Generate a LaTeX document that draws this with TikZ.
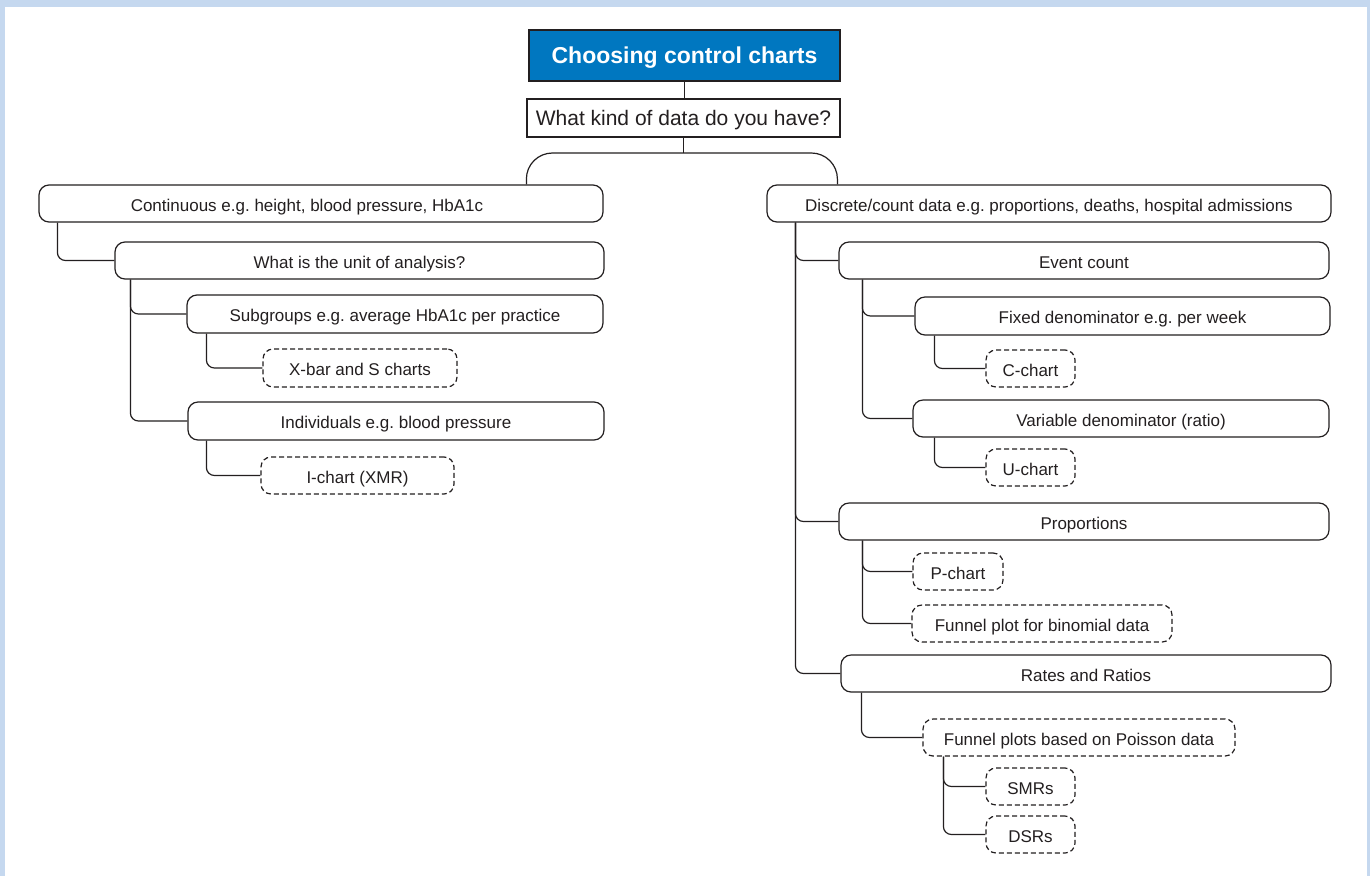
\documentclass[tikz,border=0pt]{standalone}
\usepackage{fontspec}
\setmainfont{Liberation Sans}
\usetikzlibrary{calc}
\definecolor{bgblue}{RGB}{197,216,239}
\definecolor{titleblue}{RGB}{0,119,192}
\definecolor{ink}{RGB}{35,31,32}
\frenchspacing
\begin{document}
\begin{tikzpicture}[x=1pt,y=-1pt,
  font=\fontsize{17}{20}\selectfont, text=ink,
  box/.style={draw=ink, line width=1.2pt, rounded corners=10pt, inner sep=0pt, text height=17pt, text depth=2pt},
  dbox/.style={box, dash pattern=on 5pt off 3pt},
  sz/.style 2 args={minimum width=#1pt, minimum height=#2pt},
  conn/.style={draw=ink, line width=1.2pt, rounded corners=8pt},
  bracket/.style={draw=ink, line width=1.2pt, rounded corners=26pt}]
\useasboundingbox (0,0) rectangle (1370,876);
\fill[bgblue] (0,0) rectangle (1370,876);
\fill[white] (5,7) rectangle (1367,876);

% top
\node[draw=ink, line width=1.2pt, fill=titleblue, text=white, inner sep=0pt, sz={311}{51},
  text height=17pt, text depth=2pt,
  font=\fontsize{23}{26}\selectfont\bfseries] (title) at (684.5,55.5) {Choosing control charts};
\node[draw=ink, line width=1.2pt, inner sep=0pt, sz={313}{38},
  text height=16pt, text depth=2pt,
  font=\fontsize{21}{24}\selectfont] (q) at (683.5,118) {What kind of data do you have?};
\coordinate (fork) at (683.5,153);

% left branch
\node[box, sz={564}{37}] (cont) at (321,203.5) {Continuous e.g. height, blood pressure, HbA1c\kern28pt};
\node[box, sz={489}{37}] (unit) at (359.5,260.5) {What is the unit of analysis?};
\node[box, sz={416}{38}] (sub) at (395,314) {Subgroups e.g. average HbA1c per practice};
\node[dbox, sz={194}{38}] (xbar) at (360,368) {X-bar and S charts};
\node[box, sz={416}{38}] (ind) at (396,421) {Individuals e.g. blood pressure};
\node[dbox, sz={193}{37}] (ichart) at (357.5,475.5) {I-chart (XMR)};

% right branch
\node[box, sz={564}{37}] (disc) at (1049,203.5) {Discrete/count data e.g. proportions, deaths, hospital admissions};
\node[box, sz={490}{37}] (event) at (1084,260.5) {Event count};
\node[box, sz={415}{38}] (fixed) at (1122.5,316) {Fixed denominator e.g. per week};
\node[dbox, sz={89}{37}] (cchart) at (1030.5,368.5) {C-chart};
\node[box, sz={416}{37}] (var) at (1121,418.5) {Variable denominator (ratio)};
\node[dbox, sz={89}{37}] (uchart) at (1030.5,467.5) {U-chart};
\node[box, sz={490}{37}] (prop) at (1084,521.5) {Proportions};
\node[dbox, sz={90}{37}] (pchart) at (958,571.5) {P-chart};
\node[dbox, sz={260}{37}] (funbin) at (1042,623.5) {Funnel plot for binomial data};
\node[box, sz={490}{37}] (rates) at (1086,673.5) {Rates and Ratios};
\node[dbox, sz={312}{37}] (funpoi) at (1079,737.5) {Funnel plots based on Poisson data};
\node[dbox, sz={89}{37}] (smr) at (1030.5,786.5) {SMRs};
\node[dbox, sz={89}{37}] (dsr) at (1030.5,834.5) {DSRs};

% connectors
\draw[conn] (title.south) -- (title.south |- q.north);
\draw[conn] (q.south) -- (fork);
\draw[bracket] ($(cont.north west)+(488,0)$) |- (fork) -| ($(disc.north west)+(71,0)$);

\draw[conn] ($(cont.south west)+(19,0)$) |- (unit.west);
\draw[conn] ($(unit.south west)+(16,0)$) |- (sub.west);
\draw[conn] ($(unit.south west)+(16,0)$) |- (ind.west);
\draw[conn] ($(sub.south west)+(20,0)$) |- (xbar.west);
\draw[conn] ($(ind.south west)+(19,0)$) |- (ichart.west);

\draw[conn] ($(disc.south west)+(29,0)$) |- (event.west);
\draw[conn] ($(disc.south west)+(29,0)$) |- (prop.west);
\draw[conn] ($(disc.south west)+(29,0)$) |- (rates.west);
\draw[conn] ($(event.south west)+(24,0)$) |- (fixed.west);
\draw[conn] ($(event.south west)+(24,0)$) |- (var.west);
\draw[conn] ($(fixed.south west)+(20,0)$) |- (cchart.west);
\draw[conn] ($(var.south west)+(22,0)$) |- (uchart.west);
\draw[conn] ($(prop.south west)+(24,0)$) |- (pchart.west);
\draw[conn] ($(prop.south west)+(24,0)$) |- (funbin.west);
\draw[conn] ($(rates.south west)+(21,0)$) |- (funpoi.west);
\draw[conn] ($(funpoi.south west)+(21,0)$) |- (smr.west);
\draw[conn] ($(funpoi.south west)+(21,0)$) |- (dsr.west);
\end{tikzpicture}
\end{document}
